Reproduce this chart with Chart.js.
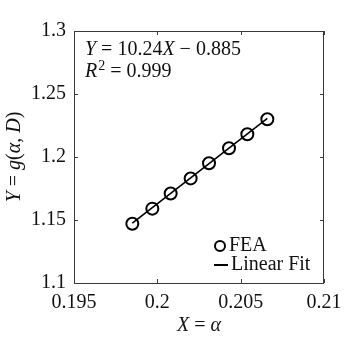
<!DOCTYPE html>
<html><head><meta charset="utf-8">
<script src="https://cdn.jsdelivr.net/npm/chart.js@4.4.1/dist/chart.umd.min.js"></script>
<style>html,body{margin:0;padding:0;background:#fff;}#wrap{width:359px;height:340px;position:relative}</style>
</head><body><div id="wrap"><canvas id="c" width="359" height="340"></canvas></div>
<script>
// ---- data ----
const feaX = [0.1985, 0.1997, 0.2008, 0.2020, 0.2031, 0.2043, 0.2054, 0.2066];
const feaY = [1.147, 1.159, 1.171, 1.183, 1.195, 1.207, 1.218, 1.230];
const fitX = [0.1985, 0.2066];
const fitY = [1.1476, 1.2306];
const xTicks = [0.195, 0.2, 0.205, 0.21];
const xTickLabels = ['0.195', '0.2', '0.205', '0.21'];
const yTicks = [1.1, 1.15, 1.2, 1.25, 1.3];
const yTickLabels = ['1.1', '1.15', '1.2', '1.25', '1.3'];
const seriesLabels = ['FEA', 'Linear Fit'];
const fitEquation = [['Y', 1], [' = 10.24', 0], ['X', 1], [' \u2212 0.885', 0]];
const fitR2 = '0.999';
const xTitle = [['X', 1], [' = ', 0], ['\u03B1', 1]];
const yTitle = [['Y', 1], [' = ', 0], ['g', 1], ['(', 0], ['\u03B1', 1], [', ', 0], ['D', 1], [')', 0]];

const FONT = '"Liberation Serif", "Times New Roman", serif';
const FS = 20;
const TXT = '#111';

function findLabel(list, labels, v) {
  const i = list.findIndex(t => Math.abs(t - v) < 1e-9);
  return i >= 0 ? labels[i] : '';
}

function drawMixed(ctx, segs, x, y, align) {
  let total = 0;
  const w = segs.map(s => {
    ctx.font = (s[1] ? 'italic ' : '') + FS + 'px ' + FONT;
    const m = ctx.measureText(s[0]).width;
    total += m;
    return m;
  });
  let cx = align === 'center' ? x - total / 2 : x;
  segs.forEach((s, i) => {
    ctx.font = (s[1] ? 'italic ' : '') + FS + 'px ' + FONT;
    ctx.fillText(s[0], cx, y);
    cx += w[i];
  });
  return cx;
}

const decor = {
  id: 'decor',
  afterDraw(chart) {
    const ctx = chart.ctx;
    const a = chart.chartArea;
    const xs = chart.scales.x, ys = chart.scales.y;
    ctx.save();
    // box
    ctx.strokeStyle = '#3a3a3a';
    ctx.lineWidth = 1;
    ctx.strokeRect(a.left + 0.5, a.top + 0.5, a.right - a.left - 1, a.bottom - a.top);
    // inward ticks
    const TL = 4;
    ctx.beginPath();
    xTicks.forEach(v => {
      const px = Math.round(xs.getPixelForValue(v)) + 0.5;
      ctx.moveTo(px, a.bottom); ctx.lineTo(px, a.bottom - TL);
      ctx.moveTo(px, a.top); ctx.lineTo(px, a.top + TL);
    });
    yTicks.forEach(v => {
      const py = Math.round(ys.getPixelForValue(v)) + 0.5;
      ctx.moveTo(a.left, py); ctx.lineTo(a.left + TL, py);
      ctx.moveTo(a.right, py); ctx.lineTo(a.right - TL, py);
    });
    ctx.stroke();

    ctx.fillStyle = TXT;
    ctx.textBaseline = 'middle';
    ctx.textAlign = 'left';
    // fit annotation
    drawMixed(ctx, fitEquation, a.left + 11, a.top + 19, 'left');
    let cx = drawMixed(ctx, [['R', 1]], a.left + 11, a.top + 41, 'left');
    ctx.font = '14px ' + FONT;
    ctx.fillText('2', cx + 1, a.top + 35);
    cx += 1 + ctx.measureText('2').width;
    drawMixed(ctx, [[' = ' + fitR2, 0]], cx, a.top + 41, 'left');

    // legend
    const ds = chart.data.datasets;
    ctx.strokeStyle = '#000';
    ctx.lineWidth = 2;
    ctx.beginPath();
    ctx.arc(a.right - 104, a.bottom - 37, 5, 0, Math.PI * 2);
    ctx.stroke();
    ctx.font = FS + 'px ' + FONT;
    ctx.fillText(ds[0].label, a.right - 95, a.bottom - 37);
    ctx.beginPath();
    ctx.moveTo(a.right - 110, a.bottom - 18);
    ctx.lineTo(a.right - 96, a.bottom - 18);
    ctx.stroke();
    ctx.fillText(ds[1].label, a.right - 93, a.bottom - 18);

    // axis titles
    ctx.textBaseline = 'middle';
    drawMixed(ctx, xTitle, (a.left + a.right) / 2, 326, 'center');
    ctx.translate(15, (a.top + a.bottom) / 2);
    ctx.rotate(-Math.PI / 2);
    drawMixed(ctx, yTitle, 0, 0, 'center');
    ctx.restore();
  }
};

new Chart(document.getElementById('c'), {
  type: 'scatter',
  data: {
    datasets: [
      {
        label: seriesLabels[0],
        data: feaX.map((x, i) => ({ x: x, y: feaY[i] })),
        pointStyle: 'circle',
        pointRadius: 6,
        pointBorderWidth: 2,
        borderColor: '#000',
        backgroundColor: 'rgba(0,0,0,0)',
        pointBackgroundColor: 'rgba(0,0,0,0)',
        order: 2
      },
      {
        type: 'line',
        label: seriesLabels[1],
        data: fitX.map((x, i) => ({ x: x, y: fitY[i] })),
        showLine: true,
        pointRadius: 0,
        borderColor: '#000',
        borderWidth: 1.6,
        fill: false,
        order: 1
      }
    ]
  },
  options: {
    responsive: false,
    animation: false,
    devicePixelRatio: 1,
    layout: { padding: { left: 0, top: 31, right: 35, bottom: 0 } },
    plugins: { legend: { display: false }, tooltip: { enabled: false } },
    scales: {
      x: {
        type: 'linear',
        min: 0.195, max: 0.21,
        afterBuildTicks: s => { s.ticks = xTicks.map(v => ({ value: v })); },
        afterFit: s => { s.height = 57; },
        ticks: {
          callback: v => findLabel(xTicks, xTickLabels, v),
          font: { family: FONT, size: FS },
          color: TXT, padding: 8, maxRotation: 0, autoSkip: false
        },
        grid: { drawOnChartArea: false, drawTicks: false },
        border: { display: false }
      },
      y: {
        type: 'linear',
        min: 1.1, max: 1.3,
        afterBuildTicks: s => { s.ticks = yTicks.map(v => ({ value: v })); },
        afterFit: s => { s.width = 74; },
        ticks: {
          callback: v => findLabel(yTicks, yTickLabels, v),
          font: { family: FONT, size: FS },
          color: TXT, padding: 8, autoSkip: false
        },
        grid: { drawOnChartArea: false, drawTicks: false },
        border: { display: false }
      }
    }
  },
  plugins: [decor]
});
</script>
</body></html>
